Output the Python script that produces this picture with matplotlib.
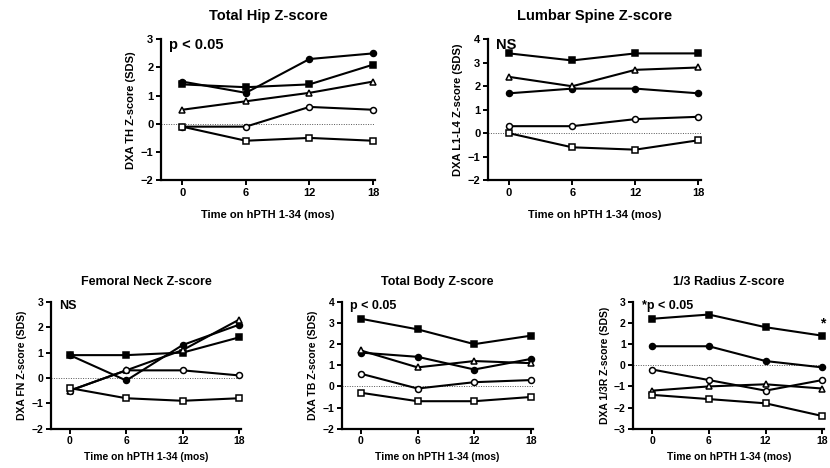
import numpy as np
import matplotlib
matplotlib.use('Agg')
import matplotlib.pyplot as plt

plt.rcParams['font.family'] = ['Liberation Sans', 'DejaVu Sans']
plt.rcParams['font.weight'] = 'bold'

months = [0, 6, 12, 18]
xlabel = 'Time on hPTH 1-34 (mos)'

# series order: filled square, filled circle, open triangle, open circle, open square
th_title = 'Total Hip Z-score'
th_ylabel = 'DXA TH Z-score (SDS)'
th_note = 'p < 0.05'
th_fsq = [1.4, 1.3, 1.4, 2.1]
th_fci = [1.5, 1.1, 2.3, 2.5]
th_otr = [0.5, 0.8, 1.1, 1.5]
th_oci = [-0.1, -0.1, 0.6, 0.5]
th_osq = [-0.1, -0.6, -0.5, -0.6]

ls_title = 'Lumbar Spine Z-score'
ls_ylabel = 'DXA L1-L4 Z-score (SDS)'
ls_note = 'NS'
ls_fsq = [3.4, 3.1, 3.4, 3.4]
ls_fci = [1.7, 1.9, 1.9, 1.7]
ls_otr = [2.4, 2.0, 2.7, 2.8]
ls_oci = [0.3, 0.3, 0.6, 0.7]
ls_osq = [0.0, -0.6, -0.7, -0.3]

fn_title = 'Femoral Neck Z-score'
fn_ylabel = 'DXA FN Z-score (SDS)'
fn_note = 'NS'
fn_fsq = [0.9, 0.9, 1.0, 1.6]
fn_fci = [0.9, -0.1, 1.3, 2.1]
fn_otr = [-0.5, 0.3, 1.1, 2.3]
fn_oci = [-0.5, 0.3, 0.3, 0.1]
fn_osq = [-0.4, -0.8, -0.9, -0.8]

tb_title = 'Total Body Z-score'
tb_ylabel = 'DXA TB Z-score (SDS)'
tb_note = 'p < 0.05'
tb_fsq = [3.2, 2.7, 2.0, 2.4]
tb_fci = [1.6, 1.4, 0.8, 1.3]
tb_otr = [1.7, 0.9, 1.2, 1.1]
tb_oci = [0.6, -0.1, 0.2, 0.3]
tb_osq = [-0.3, -0.7, -0.7, -0.5]

rd_title = '1/3 Radius Z-score'
rd_ylabel = 'DXA 1/3R Z-score (SDS)'
rd_note = '*p < 0.05'
rd_fsq = [2.2, 2.4, 1.8, 1.4]
rd_fci = [0.9, 0.9, 0.2, -0.1]
rd_otr = [-1.2, -1.0, -0.9, -1.1]
rd_oci = [-0.2, -0.7, -1.2, -0.7]
rd_osq = [-1.4, -1.6, -1.8, -2.4]

styles = [('s', 'black'), ('o', 'black'), ('^', 'white'), ('o', 'white'), ('s', 'white')]


def draw_panel(ax, title, ylab, note, series, ylim, big):
	fs_title = 10.5 if big else 9
	fs_tick = 8 if big else 7.5
	fs_lab = 8 if big else 7.5
	ax.axhline(0, color='#555555', lw=0.7, ls=(0, (1, 1.5)), zorder=1)
	for vals, (mk, fc) in zip(series, styles):
		ax.plot(months, vals, color='black', lw=1.5, marker=mk, markersize=4.3,
			markerfacecolor=fc, markeredgecolor='black', markeredgewidth=1.1,
			clip_on=False, zorder=3)
	ax.set_xlim(-2, 18.2)
	ax.set_ylim(*ylim)
	ax.set_xticks(months)
	ax.set_yticks(np.arange(ylim[0], ylim[1] + 1))
	for s in ['top', 'right']:
		ax.spines[s].set_visible(False)
	for s in ['left', 'bottom']:
		ax.spines[s].set_linewidth(1.6)
	ax.tick_params(direction='out', length=3.5, width=1.4, labelsize=fs_tick, pad=2)
	for lbl in ax.get_xticklabels() + ax.get_yticklabels():
		lbl.set_fontweight('bold')
	ax.set_title(title, fontsize=fs_title, fontweight='bold', pad=14 if big else 12)
	ax.set_ylabel(ylab, fontsize=fs_lab, fontweight='bold', labelpad=3)
	ax.set_xlabel(xlabel, fontsize=fs_lab, fontweight='bold', labelpad=9 if big else 4)
	ax.annotate(note, xy=(0, 1), xycoords='axes fraction', xytext=(6, 1),
		textcoords='offset points', fontsize=fs_title, fontweight='bold',
		va='top', ha='left')


fig = plt.figure(figsize=(8.3, 4.68), dpi=100)
ax1 = fig.add_axes([0.194, 0.615, 0.258, 0.301])
ax2 = fig.add_axes([0.588, 0.615, 0.256, 0.301])
ax3 = fig.add_axes([0.0614, 0.084, 0.229, 0.271])
ax4 = fig.add_axes([0.412, 0.084, 0.230, 0.271])
ax5 = fig.add_axes([0.763, 0.084, 0.230, 0.271])

draw_panel(ax1, th_title, th_ylabel, th_note, [th_fsq, th_fci, th_otr, th_oci, th_osq], (-2, 3), True)
draw_panel(ax2, ls_title, ls_ylabel, ls_note, [ls_fsq, ls_fci, ls_otr, ls_oci, ls_osq], (-2, 4), True)
draw_panel(ax3, fn_title, fn_ylabel, fn_note, [fn_fsq, fn_fci, fn_otr, fn_oci, fn_osq], (-2, 3), False)
draw_panel(ax4, tb_title, tb_ylabel, tb_note, [tb_fsq, tb_fci, tb_otr, tb_oci, tb_osq], (-2, 4), False)
draw_panel(ax5, rd_title, rd_ylabel, rd_note, [rd_fsq, rd_fci, rd_otr, rd_oci, rd_osq], (-3, 3), False)
# significance star at 18 months on radius
ax5.text(18, rd_fsq[-1] + 0.25, '*', fontsize=10, fontweight='bold', ha='center', va='bottom')

fig.savefig('out.png', dpi=100)
